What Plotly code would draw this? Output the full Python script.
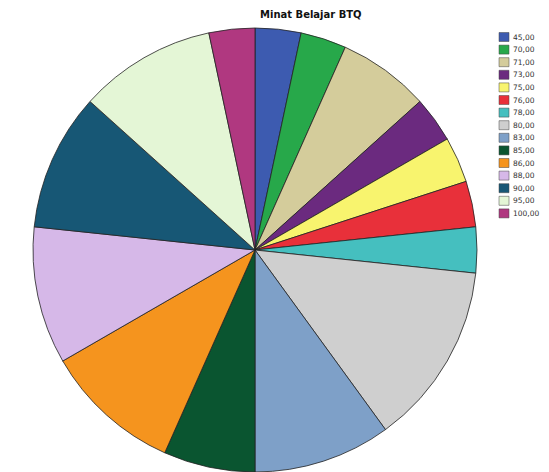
import plotly.graph_objects as go

labels = ["45,00", "70,00", "71,00", "73,00", "75,00", "76,00", "78,00", "80,00",
          "83,00", "85,00", "86,00", "88,00", "90,00", "95,00", "100,00"]
counts = [1, 1, 2, 1, 1, 1, 1, 4, 3, 2, 3, 3, 3, 3, 1]
colors = ["#3d5bb0", "#27a84a", "#d4cc9b", "#6b2a7f", "#f8f46e", "#e8303a", "#45bfbf",
          "#cfcfcf", "#7ea0c8", "#0a5530", "#f5941e", "#d6b8e8", "#175775", "#e4f6d6", "#b03880"]
title = "Minat Belajar BTQ"

OFF = 8  # page body margin
W, H = 549 - 2 * OFF, 472 - OFF


def px(x):
    return (x - OFF) / W


def py(y):
    return 1 - (y - OFF) / H


fig = go.Figure(go.Pie(
    labels=labels, values=counts, sort=False, direction="clockwise", rotation=0,
    marker=dict(colors=colors, line=dict(color="#222222", width=0.8)),
    textinfo="none", hoverinfo="label+value", showlegend=False,
    domain=dict(x=[px(33), px(477)], y=[0, py(28)]),
))

shapes, annotations = [], []
y0, step = 37, 12.6
for i, (lab, col) in enumerate(zip(labels, colors)):
    yc = y0 + i * step
    shapes.append(dict(type="rect", xref="paper", yref="paper",
                       x0=px(499), x1=px(509), y0=py(yc + 4.5), y1=py(yc - 4.5),
                       fillcolor=col, line=dict(color="#444444", width=0.5)))
    annotations.append(dict(text=lab, xref="paper", yref="paper", x=px(511), y=py(yc),
                            xanchor="left", yanchor="middle", showarrow=False,
                            font=dict(family="DejaVu Sans", size=7.5, color="#333333")))

annotations.append(dict(text="<b>" + title + "</b>", xref="paper", yref="paper",
                        x=px(311), y=py(15), xanchor="center", yanchor="middle",
                        showarrow=False, font=dict(family="DejaVu Sans", size=10, color="#111111")))

fig.update_layout(width=W, height=H, margin=dict(l=0, r=0, t=0, b=0),
                  paper_bgcolor="white", plot_bgcolor="white",
                  shapes=shapes, annotations=annotations)
fig.write_html("out.html")
